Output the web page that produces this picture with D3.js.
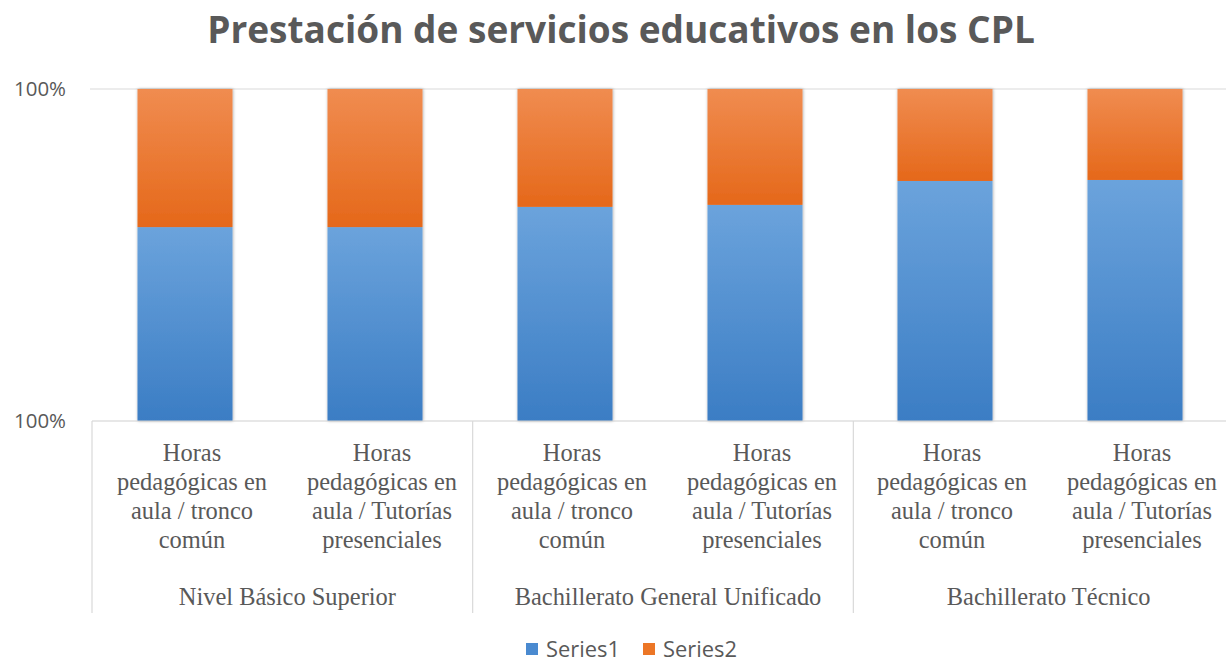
<!DOCTYPE html>
<html><head><meta charset="utf-8">
<script src="https://cdn.jsdelivr.net/npm/d3@7"></script>
<style>body{margin:0;background:#fff}svg{display:block}</style>
</head><body>
<svg id="c" width="1226" height="662"></svg>
<script>
const title = "Prestación de servicios educativos en los CPL";
const groups = ["Nivel Básico Superior", "Bachillerato General Unificado", "Bachillerato Técnico"];
const categories = [
  ["Horas", "pedagógicas en", "aula / tronco", "común"],
  ["Horas", "pedagógicas en", "aula / Tutorías", "presenciales"],
  ["Horas", "pedagógicas en", "aula / tronco", "común"],
  ["Horas", "pedagógicas en", "aula / Tutorías", "presenciales"],
  ["Horas", "pedagógicas en", "aula / tronco", "común"],
  ["Horas", "pedagógicas en", "aula / Tutorías", "presenciales"]
];
const categoryGroup = [0, 0, 1, 1, 2, 2];
const series1 = [58.4, 58.4, 64.5, 65.1, 72.3, 72.6];
const series2 = [41.6, 41.6, 35.5, 34.9, 27.7, 27.4];
const seriesNames = ["Series1", "Series2"];
const yTickValues = [0, 100];
const yTickLabels = ["100%", "100%"];

const svg = d3.select("#c");
const gray = "#595959";
const plotTop = 89, plotBottom = 421;
const sans = "'Open Sans', sans-serif";
const serif = "'Liberation Serif', 'Times New Roman', serif";

// size a font so that a sample string reaches a target width
function fitSize(text, family, weight, targetW) {
  const tmp = svg.append("text").attr("font-family", family).attr("font-weight", weight).attr("font-size", 20).text(text);
  const w = tmp.node().getComputedTextLength();
  tmp.remove();
  return 20 * targetW / w;
}
const titleSize = fitSize(title, sans, "bold", 828);
const ySize = fitSize("100%", sans, "normal", 52);
const catSize = fitSize("pedagógicas en", serif, "normal", 150);
const legSize = fitSize("Series1", sans, "normal", 74);

const defs = svg.append("defs");
function grad(id, c1, c2) {
  const g = defs.append("linearGradient").attr("id", id).attr("x1", 0).attr("y1", 0).attr("x2", 0).attr("y2", 1);
  g.append("stop").attr("offset", "0%").attr("stop-color", c1);
  g.append("stop").attr("offset", "100%").attr("stop-color", c2);
}
grad("gBlue", "#6ba3dc", "#3b7dc4");
grad("gOrange", "#f08c50", "#e5681a");
const f = defs.append("filter").attr("id", "sh").attr("x", "-10%").attr("y", "-10%").attr("width", "120%").attr("height", "120%");
f.append("feDropShadow").attr("dx", 0.5).attr("dy", 0).attr("stdDeviation", 1.6).attr("flood-color", "#000").attr("flood-opacity", 0.35);

const x = d3.scaleBand().domain(d3.range(categories.length)).range([90, 1230]).paddingInner(0.5).paddingOuter(0.25);
const xg = d3.scaleBand().domain(d3.range(groups.length)).range([92, 1234]);
const y = d3.scaleLinear().domain([0, 100]).range([plotBottom, plotTop]);

// title
svg.append("text").attr("x", 621).attr("y", 43).attr("text-anchor", "middle")
  .attr("font-family", sans).attr("font-weight", "bold").attr("font-size", titleSize)
  .attr("fill", gray).text(title);

// gridline top
svg.append("line").attr("x1", 90).attr("x2", 1226).attr("y1", y(100)).attr("y2", y(100)).attr("stroke", "#d9d9d9").attr("stroke-width", 1.2);

// y labels
svg.selectAll("text.yl").data(yTickValues).join("text").attr("class", "yl")
  .attr("x", 66).attr("y", d => y(d)).attr("dy", "0.36em").attr("text-anchor", "end")
  .attr("font-family", sans).attr("font-size", ySize).attr("fill", gray)
  .text((d, i) => yTickLabels[i]);

// stacked bars
const stackData = categories.map((c, i) => ({ i, s1: series1[i], s2: series2[i] }));
const stack = d3.stack().keys(["s1", "s2"])(stackData);
const fills = ["url(#gBlue)", "url(#gOrange)"];
svg.append("g").attr("filter", "url(#sh)").selectAll("g").data(stack).join("g")
  .attr("fill", (d, i) => fills[i])
  .selectAll("rect").data(d => d).join("rect")
  .attr("x", d => x(d.data.i)).attr("width", x.bandwidth())
  .attr("y", d => y(d[1])).attr("height", d => y(d[0]) - y(d[1]));

// axis line
svg.append("line").attr("x1", 92).attr("x2", 1226).attr("y1", plotBottom).attr("y2", plotBottom).attr("stroke", "#d0d0d0").attr("stroke-width", 1.2);

// separators
svg.selectAll("line.sep").data(d3.range(groups.length + 1)).join("line").attr("class", "sep")
  .attr("x1", d => 92 + d * xg.step()).attr("x2", d => 92 + d * xg.step())
  .attr("y1", plotBottom).attr("y2", 613).attr("stroke", "#d9d9d9").attr("stroke-width", 1.2);

// category labels
const cl = svg.selectAll("text.cl").data(categories).join("text").attr("class", "cl")
  .attr("text-anchor", "middle").attr("font-family", serif)
  .attr("font-size", catSize).attr("fill", gray);
cl.each(function (lines, i) {
  const cx = x(i) + x.bandwidth() / 2 + 7;
  d3.select(this).selectAll("tspan").data(lines).join("tspan")
    .attr("x", cx).attr("y", (d, j) => 461 + j * 29).text(d => d);
});

// group labels
svg.selectAll("text.gl").data(groups).join("text").attr("class", "gl")
  .attr("x", (d, i) => xg(i) + xg.bandwidth() / 2 + 5).attr("y", 605)
  .attr("text-anchor", "middle").attr("font-family", serif)
  .attr("font-size", catSize).attr("fill", gray).text(d => d);

// legend
const legendColors = ["#4a8ad0", "#ec7626"];
const lg = svg.append("g");
const lx = [526, 643];
seriesNames.forEach((n, i) => {
  lg.append("rect").attr("x", lx[i]).attr("y", 643).attr("width", 12).attr("height", 12).attr("fill", legendColors[i]);
  lg.append("text").attr("x", lx[i] + 20).attr("y", 649).attr("dy", "0.36em")
    .attr("font-family", sans).attr("font-size", legSize).attr("fill", gray).text(n);
});
</script>
</body></html>
